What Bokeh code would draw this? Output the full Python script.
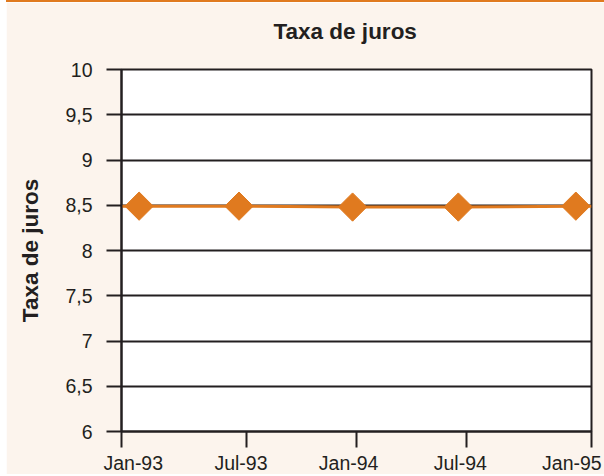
from bokeh.plotting import figure
from bokeh.models import FixedTicker, LinearAxis, Range1d, Title
from bokeh.embed import file_html
from bokeh.resources import INLINE

# ---- data (x in months since Jan-1993) ----
point_months = [0.9, 6.0, 11.8, 17.2, 23.2]
point_rates = [8.49, 8.49, 8.48, 8.48, 8.49]
line_months = [0.0, 0.9, 6.0, 11.8, 17.2, 23.2, 24.0]
line_rates = [8.49, 8.49, 8.49, 8.48, 8.48, 8.49, 8.49]

xtick_months = [0.0, 6.4, 12.0, 17.6, 24.0]
xlabel_months = [0.6, 6.1, 11.6, 17.3, 23.0]
xlabel_texts = ["Jan-93", "Jul-93", "Jan-94", "Jul-94", "Jan-95"]

ytick_vals = [6, 6.5, 7, 7.5, 8, 8.5, 9, 9.5, 10]
ytick_texts = ["6", "6,5", "7", "7,5", "8", "8,5", "9", "9,5", "10"]

TITLE = "Taxa de juros"
YLABEL = "Taxa de juros"

ORANGE = "#E07A1F"
CREAM = "#FCF4ED"
INK = "#231F20"
FONT = "Liberation Sans"

p = figure(width=598, height=474, output_backend="svg", toolbar_location=None,
           x_axis_type=None, x_range=Range1d(0, 24), y_range=Range1d(6, 10),
           min_border_left=115, min_border_right=13, min_border_top=67,
           min_border_bottom=43)
p.styles = {"border-top": "2px solid " + ORANGE, "margin-left": "6px"}
p.background_fill_color = "white"
p.border_fill_color = CREAM
p.outline_line_color = INK
p.outline_line_width = 2

# spacer (closest to frame) then the real title
spacer = Title(text=" ", text_font_size="8px", standoff=6)
p.add_layout(spacer, "above")
title = Title(text=TITLE, align="left", offset=152, text_font=FONT,
              text_font_size="22.5px", text_font_style="bold",
              text_color=INK, standoff=18)
p.add_layout(title, "above")

# y axis
ya = p.yaxis[0]
ya.ticker = FixedTicker(ticks=ytick_vals)
ya.major_label_overrides = {v: t for v, t in zip(ytick_vals, ytick_texts)}
ya.major_label_text_font = FONT
ya.major_label_text_font_size = "19.5px"
ya.major_label_text_color = INK
ya.major_label_standoff = 14
ya.major_tick_out = 15
ya.major_tick_in = 0
ya.minor_tick_out = 0
ya.minor_tick_in = 0
ya.major_tick_line_width = 2
ya.major_tick_line_color = INK
ya.axis_line_width = 2
ya.axis_line_color = INK
ya.axis_label = YLABEL
ya.axis_label_text_font = FONT
ya.axis_label_text_font_size = "22.5px"
ya.axis_label_text_font_style = "bold"
ya.axis_label_text_color = INK
ya.axis_label_standoff = 19

p.ygrid.ticker = FixedTicker(ticks=ytick_vals)
p.ygrid.grid_line_color = INK
p.ygrid.grid_line_width = 2

# x axis: tick marks
xt = LinearAxis(ticker=FixedTicker(ticks=xtick_months))
xt.major_label_overrides = {v: "" for v in xtick_months}
xt.major_label_text_font_size = "1px"
xt.major_label_standoff = 0
xt.major_tick_out = 16
xt.major_tick_in = 0
xt.minor_tick_out = 0
xt.minor_tick_in = 0
xt.major_tick_line_width = 2
xt.major_tick_line_color = INK
xt.axis_line_width = 2
xt.axis_line_color = INK
p.add_layout(xt, "below")

# x axis: labels
xl = LinearAxis(ticker=FixedTicker(ticks=xlabel_months))
xl.major_label_overrides = {v: t for v, t in zip(xlabel_months, xlabel_texts)}
xl.major_label_text_font = FONT
xl.major_label_text_font_size = "19.5px"
xl.major_label_text_color = INK
xl.major_label_standoff = 4
xl.major_tick_out = 0
xl.major_tick_in = 0
xl.minor_tick_out = 0
xl.minor_tick_in = 0
xl.axis_line_color = None
xl.major_tick_line_color = None
p.add_layout(xl, "below")

p.line(line_months, line_rates, line_color=ORANGE, line_width=3)
p.scatter(point_months, point_rates, marker="square", angle=0.785398, size=20,
          fill_color=ORANGE, line_color=ORANGE)

open("out.html", "w").write(file_html(p, INLINE))
